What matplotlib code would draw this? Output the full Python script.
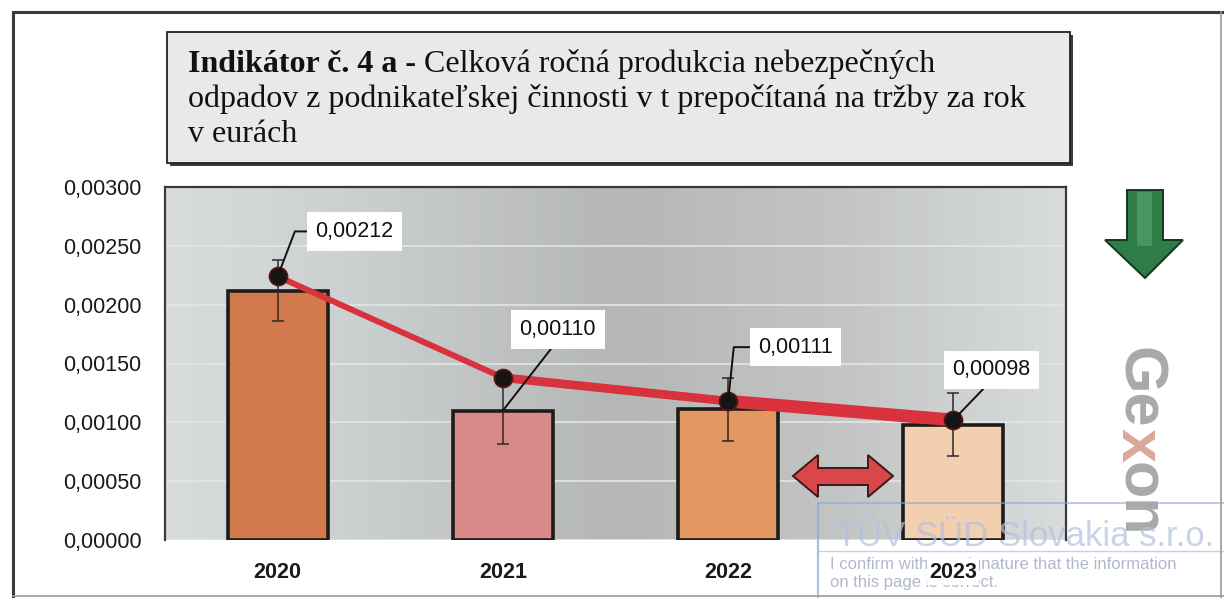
import numpy as np
import matplotlib
matplotlib.use("Agg")
import matplotlib.pyplot as plt
from matplotlib.patches import Rectangle, Polygon
from matplotlib.colors import LinearSegmentedColormap
from matplotlib.ticker import FuncFormatter, MultipleLocator

# ---- data -------------------------------------------------------------
years = ["2020", "2021", "2022", "2023"]
bar_values = [0.00212, 0.00110, 0.00111, 0.00098]
bar_errors = [0.00026, 0.00028, 0.00027, 0.00027]
trend_values = [0.00224, 0.00138, 0.00118, 0.00102]
bar_colors = ["#d27a4c", "#d98a88", "#e39660", "#f2cfae"]
y_max = 0.003
y_step = 0.0005

title_bold = "Indikátor č. 4 a -"
title_rest = " Celková ročná produkcia nebezpečných"
title_more = ["odpadov z podnikateľskej činnosti v t prepočítaná na tržby za rok",
              "v eurách"]
logo_parts = ["Ge", "x", "on"]
logo_colors = ["#a9a9a9", "#dca69b", "#a9a9a9"]
stamp_title = "TÜV SÜD Slovakia s.r.o."
stamp_lines = ["I confirm with my signature that the information",
               "on this page is correct."]

W, H = 1224, 598
fig = plt.figure(figsize=(W / 100, H / 100), dpi=100)
fig.patch.set_facecolor("white")


def pixel_layer(z):
    a = fig.add_axes([0, 0, 1, 1], zorder=z)
    a.set_xlim(0, W)
    a.set_ylim(H, 0)
    a.axis("off")
    a.patch.set_alpha(0)
    return a


under = pixel_layer(0)

# page frame
under.plot([13, 13], [12, 598], color="#3a3a3a", lw=2.2)
under.plot([13, W], [12, 12], color="#3a3a3a", lw=2.2)
under.plot([1221, 1221], [12, 598], color="#9a9a9a", lw=1.2)
under.plot([13, W], [596, 596], color="#9a9a9a", lw=1.2)

# title box with a drop shadow
under.add_patch(Rectangle((170, 35), 903, 131, fc="#3c3c3c", ec="none"))
under.add_patch(Rectangle((167, 32), 903, 131, fc="#e9e9e9", ec="#222222", lw=1.3))

serif = "Liberation Serif"
title_size = 23
t_bold = under.text(188, 72, title_bold, fontfamily=serif, fontsize=title_size,
                    fontweight="bold", va="baseline", ha="left", color="#111111")
for i, s in enumerate(title_more):
    under.text(188, 107 + 35 * i, s, fontfamily=serif, fontsize=title_size,
               va="baseline", ha="left", color="#111111")

# small print of the certification stamp sits under the axis labels
for i, s in enumerate(stamp_lines):
    under.text(830, 569 + 18 * i, s, fontfamily="Liberation Sans", fontsize=12,
               color="#a4acc4", alpha=0.85, va="baseline", ha="left")

# ---- chart ------------------------------------------------------------
ax = fig.add_axes([165 / W, (H - 540) / H, 901 / W, 353 / H], zorder=1)
x = np.arange(len(years))

bg_cmap = LinearSegmentedColormap.from_list(
    "plotbg", [(0.0, "#d9dcdc"), (0.2, "#cdd0d0"), (0.5, "#b5b7b7"),
               (0.75, "#c3c5c5"), (1.0, "#d9dcdc")])
ax.imshow(np.linspace(0, 1, 256).reshape(1, -1), cmap=bg_cmap,
          extent=[-0.5, len(years) - 0.5, 0, y_max], aspect="auto", zorder=0)
ax.set_xlim(-0.5, len(years) - 0.5)
ax.set_ylim(0, y_max)

ax.yaxis.set_major_locator(MultipleLocator(y_step))
ax.yaxis.grid(True, color="#e4e6e6", lw=1.2)
ax.set_axisbelow(True)

ax.bar(x, bar_values, width=0.445, color=bar_colors, edgecolor="#1c1c1c",
       linewidth=2.6, zorder=2)
ax.errorbar(x, bar_values, yerr=bar_errors, fmt="none", ecolor="#2a2a2a",
            elinewidth=1.1, capsize=4, capthick=1.1, zorder=3)

seg_widths = [4.3, 6.3, 9.2]
for i, lw in enumerate(seg_widths):
    ax.plot(x[i:i + 2], trend_values[i:i + 2], color="#d8333d", lw=lw,
            solid_capstyle="round", zorder=4)
ax.plot(x, trend_values, "o", ms=13, mfc="#151515", mec="#5a1515", mew=1.2,
        zorder=5)

sans = "Liberation Sans"


def fmt(v):
    return f"{v:.5f}".replace(".", ",")


ax.yaxis.set_major_formatter(FuncFormatter(lambda v, p: fmt(v)))
ax.set_xticks(x)
ax.set_xticklabels(years, fontfamily=sans, fontsize=15.5, fontweight="bold",
                   color="#1a1a1a")
for lab in ax.get_xticklabels():
    lab.set_bbox(dict(boxstyle="square,pad=0.1", fc="white", ec="none"))
for lab in ax.get_yticklabels():
    lab.set_fontfamily(sans)
    lab.set_fontsize(15.5)
    lab.set_color("#1a1a1a")
ax.tick_params(axis="y", length=0, pad=17)
ax.tick_params(axis="x", length=0, pad=16)

for side in ["top", "left", "right"]:
    ax.spines[side].set_color("#3a3a3a")
    ax.spines[side].set_linewidth(1.6)
ax.spines["bottom"].set_visible(False)

# value labels with leader lines
label_anchor = [trend_values[0], bar_values[1], trend_values[2], trend_values[3]]
label_offset = [(38, 45), (55, 81), (30, 54), (38, 50)]
label_relpos = [(0, 0.5), (0.5, 0), (0, 0.5), (0.5, 0)]
label_ha = ["left", "center", "left", "center"]
label_conn = ["angle,angleA=180,angleB=69,rad=0", "arc3,rad=0",
              "angle,angleA=180,angleB=84,rad=0", "arc3,rad=0"]
for i in range(len(years)):
    ax.annotate(fmt(bar_values[i]), xy=(x[i], label_anchor[i]),
                xytext=label_offset[i], textcoords="offset pixels",
                ha=label_ha[i], va="center", fontfamily=sans, fontsize=15.5,
                color="#111111", zorder=6,
                bbox=dict(boxstyle="square,pad=0.4", fc="white", ec="none"),
                arrowprops=dict(arrowstyle="-", color="#111111", lw=1.4,
                                shrinkA=0, shrinkB=0, relpos=label_relpos[i],
                                connectionstyle=label_conn[i]))

# ---- decorations on top -------------------------------------------------
over = pixel_layer(2)

# green trend arrow
over.add_patch(Polygon([(1127, 190), (1163, 190), (1163, 240), (1183, 240),
                        (1145, 278), (1105, 240), (1127, 240)],
                       closed=True, fc="#2f7d46", ec="#17351f", lw=1.4))
over.add_patch(Polygon([(1137, 192), (1152, 192), (1152, 246), (1137, 246)],
                       closed=True, fc="#4f9d66", ec="none", alpha=0.8))

# red double arrow
over.add_patch(Polygon([(793, 476), (818, 455), (818, 468), (868, 468),
                        (868, 455), (893, 476), (868, 497), (868, 485),
                        (818, 485), (818, 497)],
                       closed=True, fc="#d9474a", ec="#3a1818", lw=1.4))

fig.canvas.draw()
rend = fig.canvas.get_renderer()

# second half of the first title line, right after the bold part
bb = t_bold.get_window_extent(rend)
under.text(bb.x1, 72, title_rest, fontfamily=serif, fontsize=title_size,
           va="baseline", ha="left", color="#111111")

# vertical company logo, written piece by piece down the page
logo_kw = dict(fontfamily=sans, fontsize=44, fontweight="bold", rotation=-90,
               rotation_mode="anchor", ha="left", va="baseline")
y_pos = 347
for part, col in zip(logo_parts, logo_colors):
    t = over.text(1122, y_pos, part, color=col, **logo_kw)
    y_pos += t.get_window_extent(rend).height

# certification stamp frame and heading
stamp_c = "#8fa3dc"
over.plot([818, W], [503, 503], color=stamp_c, lw=1.2, alpha=0.7)
over.plot([818, 818], [503, H], color=stamp_c, lw=1.6, alpha=0.7)
over.plot([818, W], [551, 551], color=stamp_c, lw=1.0, alpha=0.5)
over.text(836, 546, stamp_title, fontfamily=sans, fontsize=25,
          color="#b3bfe0", alpha=0.7, va="baseline", ha="left")

fig.savefig("out.png", dpi=100, facecolor="white")
